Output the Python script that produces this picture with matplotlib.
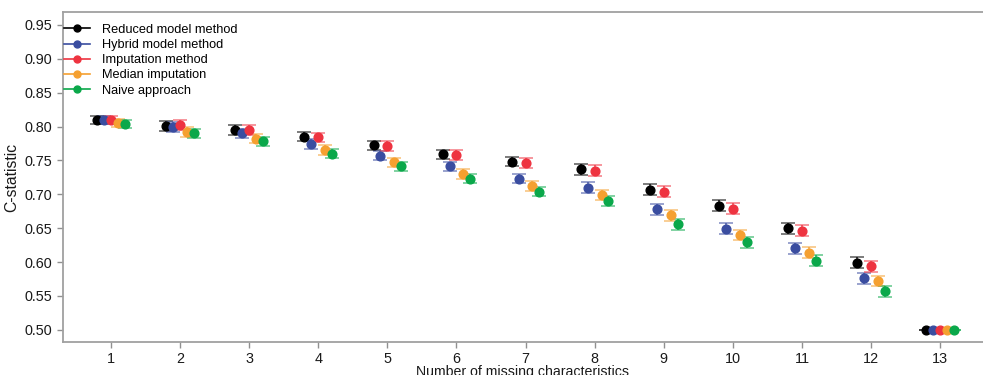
import matplotlib
matplotlib.use("Agg")
import matplotlib.pyplot as plt
from matplotlib.lines import Line2D
import numpy as np

plt.rcParams['font.family'] = ['Liberation Sans', 'DejaVu Sans']

missing = [1, 2, 3, 4, 5, 6, 7, 8, 9, 10, 11, 12, 13]
methods = ["Reduced model method", "Hybrid model method", "Imputation method",
           "Median imputation", "Naive approach"]
colors = ["#000000", "#3A4DA0", "#EE3340", "#F5A030", "#0AA84A"]

reduced = [0.809, 0.801, 0.795, 0.785, 0.772, 0.759, 0.748, 0.737, 0.707, 0.683, 0.650, 0.599, 0.500]
hybrid = [0.809, 0.799, 0.790, 0.774, 0.757, 0.741, 0.723, 0.710, 0.678, 0.649, 0.620, 0.576, 0.500]
imputation = [0.809, 0.802, 0.795, 0.784, 0.771, 0.758, 0.746, 0.735, 0.704, 0.679, 0.646, 0.594, 0.500]
median = [0.805, 0.792, 0.782, 0.765, 0.747, 0.730, 0.712, 0.699, 0.669, 0.640, 0.614, 0.572, 0.500]
naive = [0.804, 0.790, 0.778, 0.760, 0.741, 0.723, 0.704, 0.690, 0.656, 0.629, 0.602, 0.557, 0.500]
half_ci = [0.006, 0.007, 0.007, 0.007, 0.007, 0.007, 0.007, 0.008, 0.008, 0.008, 0.008, 0.008, 0.0]

series = [reduced, hybrid, imputation, median, naive]
offsets = [-0.2, -0.1, 0.0, 0.1, 0.2]

fig = plt.figure(figsize=(9.83, 3.75), dpi=100)
ax = fig.add_axes([0.064, 0.088, 0.936, 0.88])

x = np.array(missing, dtype=float)
handles = []
for vals, col, off, name in zip(series, colors, offsets, methods):
    eb = ax.errorbar(x + off, vals, yerr=half_ci, fmt='o', color=col, ecolor=col,
                     markersize=6.3, capsize=5.2, elinewidth=1.2, capthick=1.2,
                     zorder=3)
    for c in eb[1]:
        c.set_alpha(0.6)
    for l in eb[2]:
        l.set_alpha(0.8)
    handles.append(Line2D([], [], color=col, marker='o', markersize=5,
                          linewidth=1.2, label=name))

ax.set_xlim(0.305, 13.62)
ax.set_ylim(0.482, 0.969)
ax.set_xticks(missing)
ax.set_yticks([0.50, 0.55, 0.60, 0.65, 0.70, 0.75, 0.80, 0.85, 0.90, 0.95])
ax.set_yticklabels([f"{v:.2f}" for v in ax.get_yticks()])

for s in ['left', 'bottom', 'top']:
    ax.spines[s].set_color('#A0A0A0')
    ax.spines[s].set_linewidth(1.3)
ax.spines['right'].set_visible(False)
ax.tick_params(axis='both', colors='#909090', labelcolor='#1a1a1a', labelsize=10.4,
               length=4, width=1, direction='out', pad=3.5)

ax.set_ylabel("C-statistic", fontsize=11.3, color='#1a1a1a', labelpad=4)
ax.set_xlabel("Number of missing characteristics", fontsize=10.2, color='#1a1a1a', labelpad=-1)

leg = ax.legend(handles=handles, loc='upper left', frameon=False, fontsize=9.2,
                handlelength=2.0, handletextpad=0.95, labelspacing=0.25,
                borderaxespad=0.0, borderpad=0.1, bbox_to_anchor=(0.0, 0.968))

fig.savefig("out.png", dpi=100)
